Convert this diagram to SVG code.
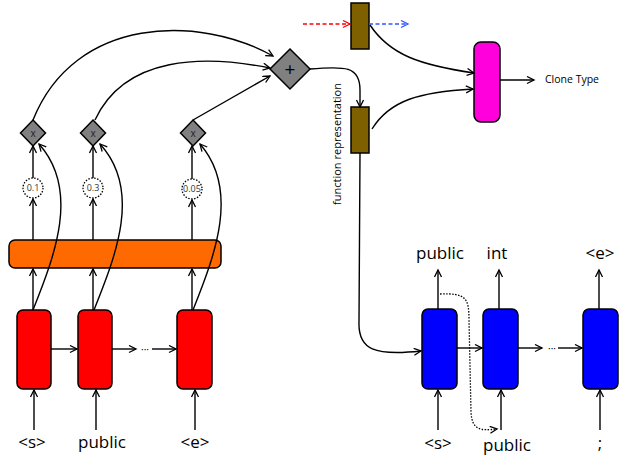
<svg xmlns="http://www.w3.org/2000/svg" width="619" height="457" viewBox="0 0 619 457">
<style>
.ln{fill:none;stroke:#000;stroke-width:1.4}
.arr{marker-end:url(#ah)}
.dot{fill:none;stroke:#000;stroke-width:1.3;stroke-dasharray:1.5 1.5}
.lbl{font-family:"Open Sans","Liberation Sans",sans-serif;font-size:17px;fill:#000;text-anchor:middle}
.sm{font-family:"Open Sans","Liberation Sans",sans-serif;font-size:9px;fill:#333;text-anchor:middle}
.red{fill:#ff0000;stroke:#000;stroke-width:1.5}
.blue{fill:#0000ff;stroke:#000;stroke-width:1.5}
.brown{fill:#7f6000;stroke:#000;stroke-width:1.5}
.gray{fill:#808080;stroke:#000;stroke-width:1.5}
.circ{fill:#fff;stroke:#000;stroke-width:1.3;stroke-dasharray:1.5 1.5}
</style>
<defs>
<marker id="ah" markerWidth="10" markerHeight="10" refX="8" refY="4" orient="auto" markerUnits="userSpaceOnUse">
<path d="M1,0.5 L8,4 L1,7.5" fill="none" stroke="#000" stroke-width="1.3"/>
</marker>
<marker id="ahr" markerWidth="10" markerHeight="10" refX="8" refY="4" orient="auto" markerUnits="userSpaceOnUse">
<path d="M1,0.5 L8,4 L1,7.5" fill="none" stroke="#ff0000" stroke-width="1.3"/>
</marker>
<marker id="ahb" markerWidth="10" markerHeight="10" refX="8" refY="4" orient="auto" markerUnits="userSpaceOnUse">
<path d="M1,0.5 L8,4 L1,7.5" fill="none" stroke="#3355ff" stroke-width="1.3"/>
</marker>
</defs>

<g id="red1"><rect class="red" x="17" y="310" width="34" height="79" rx="6"/></g>
<g id="red2"><rect class="red" x="78" y="310" width="34" height="79" rx="6"/></g>
<g id="red3"><rect class="red" x="177" y="310" width="35" height="79" rx="6"/></g>
<g id="orange"><rect x="9" y="240" width="212" height="28" rx="6" fill="#ff6a00" stroke="#000" stroke-width="1.5"/></g>

<g id="w1"><circle class="circ" cx="33" cy="188" r="10"/><text x="33" y="191" class="sm">0.1</text></g>
<g id="w2"><circle class="circ" cx="93" cy="188" r="10"/><text x="93" y="191" class="sm">0.3</text></g>
<g id="w3"><circle class="circ" cx="192" cy="189" r="10"/><text x="192" y="192" class="sm">0.05</text></g>

<g id="x1"><polygon class="gray" points="33,120 45.5,133 33,146 20.5,133"/><text x="33" y="136.5" class="sm" style="font-size:10px;fill:#222">x</text></g>
<g id="x2"><polygon class="gray" points="93,120 105.5,133 93,146 80.5,133"/><text x="93" y="136.5" class="sm" style="font-size:10px;fill:#222">x</text></g>
<g id="x3"><polygon class="gray" points="193,120 205.5,133 193,146 180.5,133"/><text x="193" y="136.5" class="sm" style="font-size:10px;fill:#222">x</text></g>

<g id="plus"><polygon class="gray" points="290,49 310,69 290,89 270,69"/><text x="290" y="76" class="sm" style="font-size:19px;fill:#000">+</text></g>

<g id="brown1"><rect class="brown" x="351" y="3" width="18" height="46"/></g>
<g id="brown2"><rect class="brown" x="351" y="107" width="18" height="46"/></g>
<g id="funclabel"><text transform="translate(341,144) rotate(-90)" text-anchor="middle" font-family="Open Sans, Liberation Sans, sans-serif" font-size="10.5" fill="#000" textLength="122" lengthAdjust="spacingAndGlyphs">function representation</text></g>

<g id="magenta"><rect x="474" y="42" width="26" height="80" rx="7" fill="#ff00dc" stroke="#000" stroke-width="1.5"/></g>
<g id="clonetype"><text x="545" y="83" font-family="Open Sans, Liberation Sans, sans-serif" font-size="10.5" fill="#000">Clone Type</text></g>

<g id="blue1"><rect class="blue" x="422" y="309" width="35" height="80" rx="6"/></g>
<g id="blue2"><rect class="blue" x="483" y="309" width="35" height="80" rx="6"/></g>
<g id="blue3"><rect class="blue" x="583" y="309" width="35" height="80" rx="6"/></g>

<g id="connectors">
<!-- red inputs -->
<path class="ln arr" d="M34,430 L34,390"/>
<path class="ln arr" d="M96,430 L96,390"/>
<path class="ln arr" d="M195,430 L195,390"/>
<!-- red horizontal -->
<path class="ln arr" d="M51,349 L77,349"/>
<path class="ln arr" d="M112,349 L136,349"/>
<path class="ln arr" d="M152,349 L176,349"/>
<!-- red to orange -->
<path class="ln arr" d="M33,310 L33,269"/>
<path class="ln arr" d="M93,310 L93,269"/>
<path class="ln arr" d="M192,310 L192,269"/>
<!-- orange to circles -->
<path class="ln arr" d="M33,240 L33,199"/>
<path class="ln arr" d="M93,240 L93,199"/>
<path class="ln arr" d="M192,240 L192,200"/>
<!-- circles to diamonds -->
<path class="ln arr" d="M33,178 L33,146"/>
<path class="ln arr" d="M93,178 L93,146"/>
<path class="ln arr" d="M192,179 L192,146"/>
<!-- skip curves red -> diamonds -->
<path class="ln arr" d="M33,310 C55,255 80,190 39,144"/>
<path class="ln arr" d="M94,310 C116,255 142,190 100,144"/>
<path class="ln arr" d="M193,310 C215,255 240,190 200,144"/>
<!-- diamonds to plus -->
<path class="ln arr" d="M33,120 C75,15 200,15 273,56"/>
<path class="ln arr" d="M95,120 C125,55 205,55 270,68"/>
<path class="ln arr" d="M193,120 L270,76"/>
<!-- plus to brown2 -->
<path class="ln arr" d="M310,69 C345,66 360,66 360,90 L360,107"/>
<!-- dashed -->
<path d="M303,24 L350,24" fill="none" stroke="#ff0000" stroke-width="1.4" stroke-dasharray="4 2.5" marker-end="url(#ahr)"/>
<path d="M369,24 L408,24" fill="none" stroke="#3355ff" stroke-width="1.4" stroke-dasharray="4 2.5" marker-end="url(#ahb)"/>
<!-- brown to magenta -->
<path class="ln arr" d="M370,25 C390,55 420,65 474,73"/>
<path class="ln arr" d="M372,129 C390,100 420,92 473,89"/>
<!-- magenta output -->
<path class="ln arr" d="M500,80 L534,80"/>
<!-- brown2 to blue1 -->
<path class="ln arr" d="M360,153 L359,322 C358,350 375,356 421,351"/>
<!-- blue horizontal -->
<path class="ln arr" d="M457,348 L482,348"/>
<path class="ln arr" d="M518,348 L542,348"/>
<path class="ln arr" d="M558,348 L582,348"/>
<!-- blue outputs -->
<path class="ln arr" d="M438,309 L438,270"/>
<path class="ln arr" d="M499,309 L499,270"/>
<path class="ln arr" d="M599,309 L599,270"/>
<!-- blue inputs -->
<path class="ln arr" d="M438,430 L438,390"/>
<path class="ln arr" d="M501,430 L501,390"/>
<path class="ln arr" d="M600,430 L600,390"/>
<!-- dotted teacher forcing -->
<path class="dot" d="M440,294 C466,293 469,298 469,320 L471,412 C472,430 480,431 497,429" marker-end="url(#ah)"/>
<text x="145" y="353" class="sm" style="font-size:10px;fill:#000">···</text>
<text x="552" y="352" class="sm" style="font-size:10px;fill:#000">···</text>
</g>

<g id="labels">
<text x="32" y="448" class="lbl">&lt;s&gt;</text>
<text x="102" y="448" class="lbl">public</text>
<text x="195" y="448" class="lbl">&lt;e&gt;</text>
<text x="440" y="259" class="lbl">public</text>
<text x="497" y="259" class="lbl">int</text>
<text x="600" y="259" class="lbl">&lt;e&gt;</text>
<text x="438" y="449" class="lbl">&lt;s&gt;</text>
<text x="507" y="451" class="lbl">public</text>
<text x="600" y="449" class="lbl">;</text>
</g>
</svg>
